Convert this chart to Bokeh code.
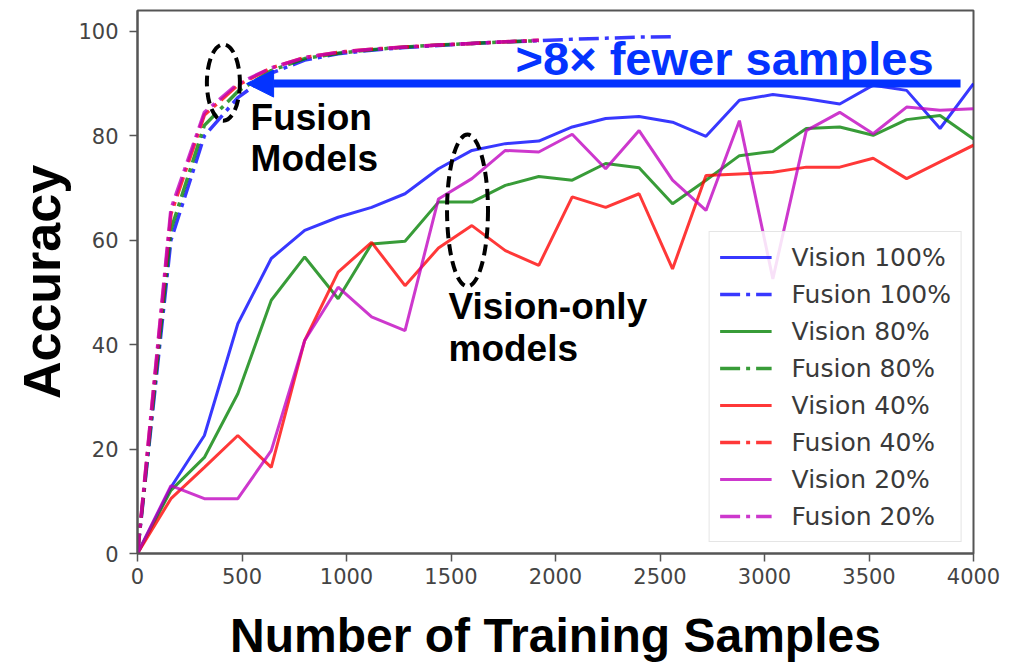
from bokeh.plotting import figure
from bokeh.models import Range1d, Legend, LegendItem, Arrow, NormalHead, Label, FixedTicker
from bokeh.embed import file_html
from bokeh.resources import INLINE

# Training-set sizes at which each model was evaluated
samples = [0, 160, 320, 480, 640, 800, 960, 1120, 1280, 1440, 1600, 1760, 1920,
           2080, 2240, 2400, 2560, 2720, 2880, 3040, 3200, 3360, 3520, 3680, 3840, 4000]
fusion_samples = [0, 160, 320, 480, 640, 800, 960, 1120, 1280, 1440, 1600, 1760, 1920]
fusion_samples_100 = [0, 160, 320, 480, 640, 800, 960, 1120, 1280, 1440, 1600, 1760, 1920,
                      2080, 2240, 2400, 2560]

# Vision-only accuracy (%)
vision_100 = [0, 12.7, 22.6, 44.0, 56.5, 61.9, 64.4, 66.3, 68.9, 73.7, 77.2, 78.5, 79.0,
              81.7, 83.3, 83.7, 82.6, 79.9, 86.8, 87.9, 87.1, 86.1, 89.7, 88.7, 81.4, 90.0]
vision_80 = [0, 12.1, 18.4, 30.6, 48.5, 56.8, 48.8, 59.3, 59.8, 67.3, 67.3, 70.5, 72.2,
             71.5, 74.7, 73.9, 67.0, 71.5, 76.2, 77.0, 81.4, 81.7, 80.1, 83.1, 83.9, 79.4]
vision_40 = [0, 10.5, 16.5, 22.6, 16.5, 40.8, 53.9, 59.6, 51.3, 58.5, 62.8, 58.0, 55.2,
             68.3, 66.3, 68.9, 54.5, 72.4, 72.7, 73.0, 74.0, 74.0, 75.7, 71.8, 75.0, 78.2]
vision_20 = [0, 13.0, 10.5, 10.5, 19.7, 40.8, 51.0, 45.3, 42.7, 67.9, 71.8, 77.2, 76.9,
             80.3, 73.7, 81.0, 71.5, 65.7, 82.9, 52.6, 81.0, 84.5, 80.4, 85.5, 84.9, 85.2]

# Fusion-model accuracy (%)
fusion_100 = [0, 60, 80, 87.3, 92, 94.5, 95.7, 96.4, 96.9, 97.3, 97.7, 98.0, 98.2,
              98.5, 98.7, 98.9, 99.0]
fusion_80 = [0, 62, 82, 88.5, 92.5, 94.8, 95.8, 96.5, 97.0, 97.4, 97.7, 98.0, 98.2]
fusion_40 = [0, 65, 84, 89.7, 93, 95, 96, 96.6, 97.0, 97.4, 97.7, 98.0, 98.3]
fusion_20 = [0, 66, 84.5, 90, 93, 95, 96, 96.6, 97.0, 97.4, 97.7, 98.0, 98.3]

x_ticks = [0, 500, 1000, 1500, 2000, 2500, 3000, 3500, 4000]
y_ticks = [0, 20, 40, 60, 80, 100]

BLUE, GREEN, RED, MAGENTA = "#0000ff", "#008000", "#ff0000", "#bf00bf"
ACCENT = "#0433ff"
DASHDOT = "20 6 4 6"

p = figure(width=1016, height=669, x_range=Range1d(0, 4000), y_range=Range1d(0, 104),
           output_backend="svg", toolbar_location=None,
           min_border_left=137, min_border_right=43, min_border_top=10, min_border_bottom=116)
p.background_fill_color = "white"
p.border_fill_color = "white"
p.xgrid.visible = False
p.ygrid.visible = False
p.outline_line_color = "#555555"
p.outline_line_width = 2

p.xaxis.ticker = FixedTicker(ticks=x_ticks)
p.yaxis.ticker = FixedTicker(ticks=y_ticks)
for ax in (p.xaxis, p.yaxis):
    ax.axis_line_color = "#555555"
    ax.axis_line_width = 2
    ax.major_tick_line_color = "#555555"
    ax.major_tick_line_width = 1.5
    ax.major_tick_out = 8
    ax.major_tick_in = 0
    ax.minor_tick_line_color = None
    ax.major_label_text_font = "DejaVu Sans"
    ax.major_label_text_font_size = "21px"
    ax.major_label_text_color = "#444444"
    ax.axis_label_text_font = "Liberation Sans"
    ax.axis_label_text_font_style = "bold"
    ax.axis_label_text_color = "black"
p.xaxis.major_label_standoff = 6
p.yaxis.major_label_standoff = 11

p.xaxis.axis_label = "Number of Training Samples"
p.xaxis.axis_label_text_font_size = "48px"
p.xaxis.axis_label_standoff = 22
p.yaxis.axis_label = "Accuracy"
p.yaxis.axis_label_text_font_size = "52px"
p.yaxis.axis_label_standoff = 4

series = [
    ("Vision 100%", samples, vision_100, BLUE, None),
    ("Fusion 100%", fusion_samples_100, fusion_100, BLUE, DASHDOT),
    ("Vision 80%", samples, vision_80, GREEN, None),
    ("Fusion 80%", fusion_samples, fusion_80, GREEN, DASHDOT),
    ("Vision 40%", samples, vision_40, RED, None),
    ("Fusion 40%", fusion_samples, fusion_40, RED, DASHDOT),
    ("Vision 20%", samples, vision_20, MAGENTA, None),
    ("Fusion 20%", fusion_samples, fusion_20, MAGENTA, DASHDOT),
]

items = []
for name, xs, ys, color, dash in series:
    if dash is None:
        r = p.line(xs, ys, line_color=color, line_width=3, line_alpha=0.78)
    else:
        r = p.line(xs, ys, line_color=color, line_width=3.5, line_alpha=0.78, line_dash=dash)
    items.append(LegendItem(label=name, renderers=[r]))

legend = Legend(items=items, location="bottom_right")
legend.border_line_color = "#cccccc"
legend.border_line_width = 1.5
legend.background_fill_color = "white"
legend.background_fill_alpha = 0.85
legend.label_text_font = "DejaVu Sans"
legend.label_text_font_size = "25px"
legend.label_text_color = "#3a3a3a"
legend.glyph_width = 52
legend.glyph_height = 30
legend.label_height = 30
legend.spacing = 7
legend.padding = 10
legend.margin = 11
legend.label_standoff = 20
p.add_layout(legend)

# Dashed ellipses marking the two model groups
p.ellipse(x=[411], y=[90.2], width=158, height=14.6, fill_alpha=0,
          line_color="black", line_width=4, line_dash="11 6")
p.ellipse(x=[1579], y=[65.7], width=196, height=29.1, fill_alpha=0,
          line_color="black", line_width=4, line_dash="11 6")

# Sample-efficiency arrow
p.add_layout(Arrow(end=NormalHead(size=27, fill_color=ACCENT, line_color=ACCENT),
                   x_start=3938, y_start=90.0, x_end=522, y_end=90.0,
                   line_color=ACCENT, line_width=8))

p.add_layout(Label(x=1809, y=94.8, text=">8× fewer samples", text_font="Liberation Sans",
                   text_font_style="bold", text_font_size="47px", text_color=ACCENT,
                   text_baseline="alphabetic"))

for txt, xx, yy in [("Fusion", 541, 83.6), ("Models", 541, 75.6),
                    ("Vision-only", 1488, 47.4), ("models", 1488, 39.3)]:
    p.add_layout(Label(x=xx, y=yy, text=txt, text_font="Liberation Sans",
                       text_font_style="bold", text_font_size="37px", text_color="black",
                       text_baseline="alphabetic"))

open("out.html", "w").write(file_html(p, INLINE))
